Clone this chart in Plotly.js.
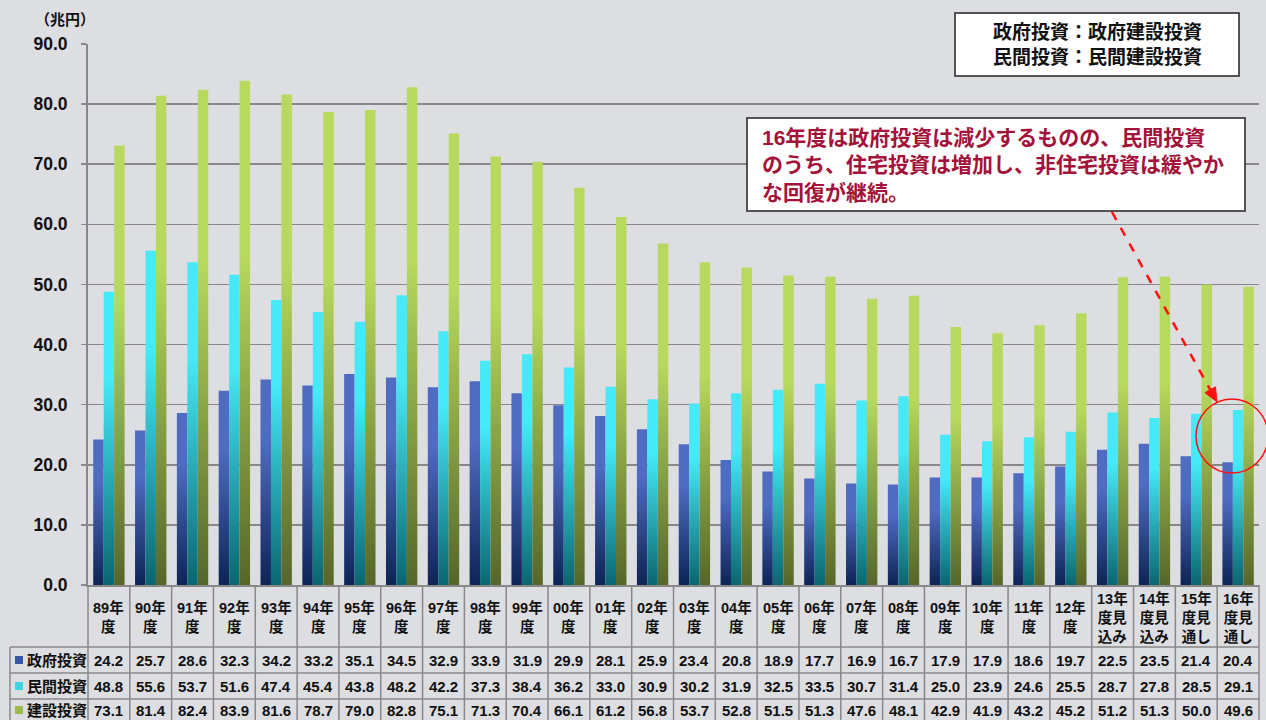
<!DOCTYPE html>
<html>
<head>
<meta charset="utf-8">
<script src="https://cdn.plot.ly/plotly-3.0.1.min.js"></script>
<style>
html,body{margin:0;padding:0;background:#dddee2;}
#chart{width:1266px;height:720px;}
</style>
</head>
<body>
<div id="chart"></div>
<script>
// ---- data ----
const categories = ['89年度','90年度','91年度','92年度','93年度','94年度','95年度','96年度','97年度','98年度','99年度','00年度','01年度','02年度','03年度','04年度','05年度','06年度','07年度','08年度','09年度','10年度','11年度','12年度','13年度見込み','14年度見込み','15年度見通し','16年度見通し'];
const headerLabels = ['89年<br>度','90年<br>度','91年<br>度','92年<br>度','93年<br>度','94年<br>度','95年<br>度','96年<br>度','97年<br>度','98年<br>度','99年<br>度','00年<br>度','01年<br>度','02年<br>度','03年<br>度','04年<br>度','05年<br>度','06年<br>度','07年<br>度','08年<br>度','09年<br>度','10年<br>度','11年<br>度','12年<br>度','13年<br>度見<br>込み','14年<br>度見<br>込み','15年<br>度見<br>通し','16年<br>度見<br>通し'];
const seriesNames = ['政府投資','民間投資','建設投資'];
const govInvest = [24.2,25.7,28.6,32.3,34.2,33.2,35.1,34.5,32.9,33.9,31.9,29.9,28.1,25.9,23.4,20.8,18.9,17.7,16.9,16.7,17.9,17.9,18.6,19.7,22.5,23.5,21.4,20.4];
const privInvest = [48.8,55.6,53.7,51.6,47.4,45.4,43.8,48.2,42.2,37.3,38.4,36.2,33.0,30.9,30.2,31.9,32.5,33.5,30.7,31.4,25.0,23.9,24.6,25.5,28.7,27.8,28.5,29.1];
const constInvest = [73.1,81.4,82.4,83.9,81.6,78.7,79.0,82.8,75.1,71.3,70.4,66.1,61.2,56.8,53.7,52.8,51.5,51.3,47.6,48.1,42.9,41.9,43.2,45.2,51.2,51.3,50.0,49.6];
const yUnit = '（兆円）';
const noteDef = '政府投資：政府建設投資<br>民間投資：民間建設投資';
const noteMain = '16年度は政府投資は減少するものの、民間投資<br>のうち、住宅投資は増加し、非住宅投資は緩やか<br>な回復が継続。';

// ---- style ----
const gradTop = ['#4f6bc2','#45e9f7','#b7d95d'];
const gradBot = ['#0d2456','#0a6670','#56662a'];
const swatch = ['#3a56a8','#3cd6e2','#9dbb4a'];
const FONT = 'Liberation Sans, Arial, Noto Sans CJK JP, sans-serif';
const CJK = 'Noto Sans CJK JP, sans-serif';
const W = 1266, H = 720, L = 88, R = 1259, T = 44, B = 585;
const px = x => (x - L) / (R - L);
const py = y => (B - y) / (B - T);
const N = categories.length;
const colX = i => px(L + (R - L) * i / N);
const GRID = '#888888';

const allSeries = [govInvest, privInvest, constInvest];
const traces = allSeries.map((vals, k) => ({
  type: 'bar', x: categories, y: vals, name: seriesNames[k],
  marker: {color: gradTop[k], line: {width: 0}},
  hoverinfo: 'skip'
}));

const annotations = [];
const shapes = [];

// y unit
annotations.push({xref:'paper', yref:'paper', x: px(65), y: py(18), text: yUnit, showarrow:false,
  font:{family:CJK, size:15, color:'#111', weight:'bold'}, xanchor:'center', yanchor:'middle'});

// table header labels and values
const rowCenters = [660, 686, 710];
categories.forEach((c, i) => {
  annotations.push({xref:'x', yref:'paper', x: c, y: py(617), text: headerLabels[i], showarrow:false,
    font:{family:FONT, size:14.5, color:'#111', weight:'bold'}, xanchor:'center', yanchor:'middle'});
  allSeries.forEach((vals, k) => {
    annotations.push({xref:'x', yref:'paper', x: c, y: py(rowCenters[k]), text: vals[i].toFixed(1), showarrow:false,
      font:{family:FONT, size:15, color:'#111', weight:'bold'}, xanchor:'center', yanchor:'middle'});
  });
});
// row labels with swatches
seriesNames.forEach((nm, k) => {
  annotations.push({xref:'paper', yref:'paper', x: px(25), y: py(rowCenters[k]), text: nm, showarrow:false,
    font:{family:FONT, size:15, color:'#111', weight:'bold'}, xanchor:'left', yanchor:'middle'});
  shapes.push({type:'rect', xref:'paper', yref:'paper', x0: px(15), x1: px(23), y0: py(rowCenters[k]-4), y1: py(rowCenters[k]+4),
    fillcolor: swatch[k], line:{width:0}});
});

// table grid lines
const hLines = [647, 673, 699];
hLines.forEach(y => shapes.push({type:'line', xref:'paper', yref:'paper', x0: px(10), x1: px(R), y0: py(y), y1: py(y), line:{color:GRID, width:1.5}}));
for (let i = 0; i <= N; i++) {
  shapes.push({type:'line', xref:'paper', yref:'paper', x0: colX(i), x1: colX(i), y0: py(B), y1: py(722), line:{color:GRID, width:1.5}});
}
shapes.push({type:'line', xref:'paper', yref:'paper', x0: px(10), x1: px(10), y0: py(647), y1: py(722), line:{color:GRID, width:1.5}});

// note boxes
shapes.push({type:'rect', xref:'paper', yref:'paper', x0: px(955), x1: px(1239), y0: py(13), y1: py(76),
  fillcolor:'#ffffff', line:{color:'#222', width:1.5}});
annotations.push({xref:'paper', yref:'paper', x: px(1097), y: py(45), text: noteDef, showarrow:false,
  font:{family:FONT, size:19, color:'#111', weight:'bold'}, xanchor:'center', yanchor:'middle', align:'center'});
shapes.push({type:'rect', xref:'paper', yref:'paper', x0: px(747), x1: px(1245), y0: py(118), y1: py(211),
  fillcolor:'#ffffff', line:{color:'#222', width:1.5}});
annotations.push({xref:'paper', yref:'paper', x: px(760), y: py(165), text: noteMain, showarrow:false,
  font:{family:FONT, size:21, color:'#a31238', weight:'bold'}, xanchor:'left', yanchor:'middle', align:'left'});

// dashed arrow and circle
const ax0 = 1112, ay0 = 212, tipX = 1217, tipY = 402;
const dx = tipX - ax0, dy = tipY - ay0, len = Math.hypot(dx, dy);
const ux = dx / len, uy = dy / len;
const hl = 14, hw = 6;
const bx = tipX - hl * ux, by = tipY - hl * uy;
shapes.push({type:'line', xref:'paper', yref:'paper', x0: px(ax0), y0: py(ay0), x1: px(bx), y1: py(by),
  line:{color:'#ff1010', width:2.5, dash:'dash'}});
const p1 = [bx - hw * uy, by + hw * ux], p2 = [bx + hw * uy, by - hw * ux];
shapes.push({type:'path', xref:'paper', yref:'paper',
  path: `M ${px(tipX)},${py(tipY)} L ${px(p1[0])},${py(p1[1])} L ${px(p2[0])},${py(p2[1])} Z`,
  fillcolor:'#ff1010', line:{color:'#ff1010', width:1}});
shapes.push({type:'circle', xref:'paper', yref:'paper', x0: px(1196), x1: px(1268), y0: py(399), y1: py(473),
  line:{color:'#ff1010', width:1.5}});

const layout = {
  width: W, height: H,
  margin: {l: L, r: W - R, t: T, b: H - B, pad: 0},
  paper_bgcolor: '#dddee2', plot_bgcolor: 'rgba(0,0,0,0)',
  barmode: 'group', bargap: 0.25, bargroupgap: 0,
  showlegend: false, hovermode: false,
  xaxis: {type:'category', range:[-0.5, N - 0.5], showticklabels:false, ticks:'', showgrid:false,
    showline:true, linecolor:GRID, linewidth:2, zeroline:false, fixedrange:true},
  yaxis: {range:[0, 90], dtick:10, tick0:0, tickformat:'.1f', showgrid:true, gridcolor:GRID, gridwidth:1.5,
    showline:true, linecolor:GRID, linewidth:2, ticks:'outside', ticklen:5, tickcolor:GRID, tickwidth:1.5,
    ticklabelstandoff:10, zeroline:false, fixedrange:true,
    tickfont:{family:FONT, size:17.5, color:'#111', weight:'bold'}},
  annotations: annotations,
  shapes: shapes
};

const gd = document.getElementById('chart');
function applyGradients() {
  const svg = gd.querySelector('svg.main-svg');
  if (!svg) return;
  const NS = 'http://www.w3.org/2000/svg';
  let defs = svg.querySelector('#barGradDefs');
  if (!defs) {
    defs = document.createElementNS(NS, 'defs');
    defs.setAttribute('id', 'barGradDefs');
    const stopsAt = [0.3, 0.3, 0.35];
    for (let k = 0; k < 3; k++) {
      const g = document.createElementNS(NS, 'linearGradient');
      g.setAttribute('id', 'barGrad' + k);
      g.setAttribute('x1', '0'); g.setAttribute('y1', '0');
      g.setAttribute('x2', '0'); g.setAttribute('y2', '1');
      [[0, gradTop[k]], [stopsAt[k], gradTop[k]], [1, gradBot[k]]].forEach(([o, c]) => {
        const s = document.createElementNS(NS, 'stop');
        s.setAttribute('offset', o); s.setAttribute('stop-color', c);
        g.appendChild(s);
      });
      defs.appendChild(g);
    }
    svg.insertBefore(defs, svg.firstChild);
  }
  gd.querySelectorAll('.barlayer .trace').forEach((tr, k) => {
    tr.querySelectorAll('path').forEach(p => { p.style.fill = 'url(#barGrad' + k + ')'; });
  });
}
Plotly.newPlot(gd, traces, layout, {displayModeBar:false, staticPlot:true}).then(() => {
  applyGradients();
  gd.on('plotly_afterplot', applyGradients);
});
</script>
</body>
</html>
